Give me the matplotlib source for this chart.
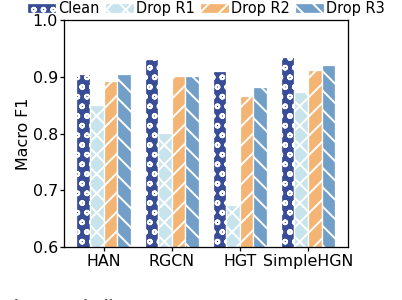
import numpy as np
import matplotlib
matplotlib.use('Agg')
import matplotlib.pyplot as plt

# scores
models = ['HAN', 'RGCN', 'HGT', 'SimpleHGN']
settings = ['Clean', 'Drop R1', 'Drop R2', 'Drop R3']
clean = [0.906, 0.932, 0.911, 0.935]
drop_r1 = [0.850, 0.801, 0.673, 0.874]
drop_r2 = [0.893, 0.902, 0.867, 0.913]
drop_r3 = [0.906, 0.902, 0.882, 0.922]

colors = ['#384c97', '#c7e4ec', '#f4b574', '#729fc7']
hatches = ['oo', 'xx', '//', '\\\\']

plt.rcParams['hatch.color'] = 'white'
plt.rcParams['hatch.linewidth'] = 1.2

fig = plt.figure(figsize=(402 / 116, 300 / 116), dpi=116)
ax = fig.add_axes([0.158, 0.178, 0.708, 0.754])

x = np.arange(len(models))
w = 0.2
series = [clean, drop_r1, drop_r2, drop_r3]
for i, vals in enumerate(series):
    ax.bar(x + (i - 1.5) * w, vals, w, color=colors[i], hatch=hatches[i],
           edgecolor='white', linewidth=0.8, label=settings[i])

ax.set_ylim(0.6, 1.0)
ax.set_yticks([0.6, 0.7, 0.8, 0.9, 1.0])
ax.set_xticks(x)
ax.set_xticklabels(models)
ax.tick_params(labelsize=9.9, pad=1, length=2.5)
ax.tick_params(axis='x', pad=2)
ax.set_ylabel('Macro F1', fontsize=9.9, labelpad=1)

ax.legend(loc='lower center', bbox_to_anchor=(0.5, 1.02), ncol=4, frameon=False,
          fontsize=9, handlelength=2.0, handletextpad=0.15, columnspacing=0.35,
          borderaxespad=0, borderpad=0)

# cut-off caption from the source page
fig.text(-0.02, 0.001, 'Performance of different HGNNs on the ACM dataset',
         family='Liberation Serif', fontsize=9.5, va='top')

fig.savefig('out.png', dpi=116)
